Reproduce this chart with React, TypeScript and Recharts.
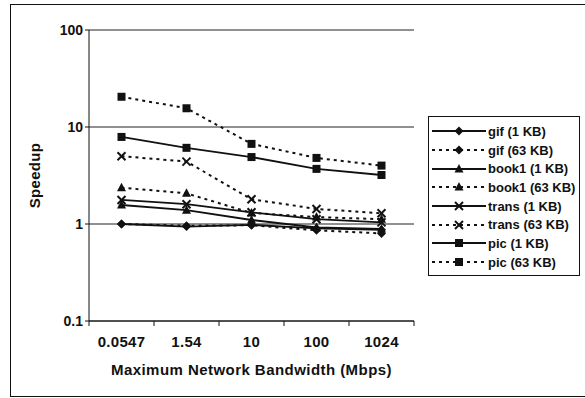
import {
  LineChart,
  Line,
  XAxis,
  YAxis,
  CartesianGrid,
  Legend,
} from 'recharts'

// bandwidth categories (Mbps)
const bandwidth = ['0.0547', '1.54', '10', '100', '1024']
const yTicks = [0.1, 1, 10, 100]

// speedup per series
const gif1 = [1.0, 0.94, 0.98, 0.9, 0.87]
const gif63 = [1.0, 0.96, 0.97, 0.86, 0.8]
const book1_1 = [1.57, 1.39, 1.1, 0.92, 0.89]
const book1_63 = [2.37, 2.07, 1.3, 1.18, 1.12]
const trans1 = [1.77, 1.6, 1.32, 1.12, 1.04]
const trans63 = [5.0, 4.4, 1.8, 1.43, 1.29]
const pic1 = [7.9, 6.1, 4.9, 3.7, 3.2]
const pic63 = [20.5, 15.6, 6.7, 4.8, 4.0]

type Shape = 'diamond' | 'triangle' | 'x' | 'square'

const series: { key: string; name: string; values: number[]; dashed: boolean; shape: Shape }[] = [
  { key: 'gif1', name: 'gif (1 KB)', values: gif1, dashed: false, shape: 'diamond' },
  { key: 'gif63', name: 'gif (63 KB)', values: gif63, dashed: true, shape: 'diamond' },
  { key: 'book1_1', name: 'book1 (1 KB)', values: book1_1, dashed: false, shape: 'triangle' },
  { key: 'book1_63', name: 'book1 (63 KB)', values: book1_63, dashed: true, shape: 'triangle' },
  { key: 'trans1', name: 'trans (1 KB)', values: trans1, dashed: false, shape: 'x' },
  { key: 'trans63', name: 'trans (63 KB)', values: trans63, dashed: true, shape: 'x' },
  { key: 'pic1', name: 'pic (1 KB)', values: pic1, dashed: false, shape: 'square' },
  { key: 'pic63', name: 'pic (63 KB)', values: pic63, dashed: true, shape: 'square' },
]

const data = bandwidth.map((bw, i) => {
  const row: Record<string, string | number> = { bw }
  series.forEach((s) => {
    row[s.key] = s.values[i]
  })
  return row
})

const FONT = '"Liberation Sans", Arial, sans-serif'
const INK = '#111'
const DASH = '3 4'

function Marker({ cx, cy, shape }: { cx: number; cy: number; shape: Shape }) {
  if (shape === 'diamond') {
    const r = 4.5
    return <polygon points={`${cx},${cy - r} ${cx + r},${cy} ${cx},${cy + r} ${cx - r},${cy}`} fill={INK} />
  }
  if (shape === 'triangle') {
    return <polygon points={`${cx},${cy - 5} ${cx + 4.5},${cy + 3.5} ${cx - 4.5},${cy + 3.5}`} fill={INK} />
  }
  if (shape === 'square') {
    return <rect x={cx - 4} y={cy - 4} width={8} height={8} fill={INK} />
  }
  return (
    <g stroke={INK} strokeWidth={2}>
      <line x1={cx - 4} y1={cy - 4} x2={cx + 4} y2={cy + 4} />
      <line x1={cx - 4} y1={cy + 4} x2={cx + 4} y2={cy - 4} />
    </g>
  )
}

const HALF_BAND = 32.5

function XTick(props: any) {
  const { x, payload, index } = props
  const axisY = 321
  return (
    <g>
      {index === 0 && <line x1={x - HALF_BAND} y1={axisY} x2={x - HALF_BAND} y2={axisY + 5} stroke={INK} />}
      <line x1={x + HALF_BAND} y1={axisY} x2={x + HALF_BAND} y2={axisY + 5} stroke={INK} />
      <text
        x={x}
        y={axisY + 26}
        textAnchor="middle"
        fontSize={15}
        fontWeight="bold"
        fontFamily={FONT}
        letterSpacing={0.3}
        fill={INK}
      >
        {payload.value}
      </text>
    </g>
  )
}

function renderLegend() {
  return (
    <div
      style={{
        border: `1px solid ${INK}`,
        width: 152,
        height: 160,
        boxSizing: 'border-box',
        paddingTop: 5,
        fontFamily: FONT,
        fontWeight: 'bold',
        fontSize: 13,
        color: INK,
        background: '#fff',
      }}
    >
      {series.map((s) => (
        <div key={s.key} style={{ display: 'flex', alignItems: 'center', height: 18.7 }}>
          <svg width={59} height={14} style={{ flex: 'none' }}>
            <line
              x1={3}
              y1={7}
              x2={57}
              y2={7}
              stroke={INK}
              strokeWidth={s.dashed ? 2 : 1.8}
              strokeDasharray={s.dashed ? DASH : undefined}
            />
            <Marker cx={30} cy={7} shape={s.shape} />
          </svg>
          <span style={{ whiteSpace: 'nowrap' }}>{s.name}</span>
        </div>
      ))}
    </div>
  )
}

export default function App() {
  return (
    <div style={{ position: 'relative', width: 585, height: 398, overflow: 'hidden', background: '#fff' }}>
      <style>{'body{margin:0}'}</style>
      <div
        style={{
          position: 'absolute',
          left: 10,
          top: 4,
          width: 600,
          height: 393,
          border: `1px solid ${INK}`,
          boxSizing: 'border-box',
        }}
      />
      <div style={{ position: 'absolute', left: 0, top: 0 }}>
        <LineChart width={585} height={398} data={data} margin={{ top: 30, right: 171, bottom: 17, left: 9 }}>
          <CartesianGrid vertical={false} stroke="#222" strokeWidth={1} yAxisId="left" />
          <XAxis
            dataKey="bw"
            type="category"
            padding={{ left: HALF_BAND, right: HALF_BAND }}
            height={60}
            stroke={INK}
            tickLine={false}
            tick={<XTick />}
            interval={0}
            label={({ viewBox }: any) => (
              <text
                x={viewBox.x + viewBox.width / 2}
                y={viewBox.y + 54}
                textAnchor="middle"
                fontSize={15}
                fontWeight="bold"
                fontFamily={FONT}
                letterSpacing={0.45}
                fill={INK}
              >
                Maximum Network Bandwidth (Mbps)
              </text>
            )}
          />
          <YAxis
            yAxisId="left"
            scale="log"
            domain={[0.1, 100]}
            ticks={yTicks}
            allowDataOverflow
            width={80}
            stroke={INK}
            tickSize={4}
            tickMargin={2}
            tick={{ fontSize: 14, fontWeight: 'bold', fontFamily: FONT, fill: INK }}
            tickFormatter={(v: number) => String(v)}
            label={({ viewBox }: any) => (
              <text
                x={viewBox.x + 31}
                y={viewBox.y + viewBox.height / 2}
                transform={`rotate(-90 ${viewBox.x + 31} ${viewBox.y + viewBox.height / 2})`}
                textAnchor="middle"
                fontSize={15}
                fontWeight="bold"
                fontFamily={FONT}
                letterSpacing={0.3}
                fill={INK}
              >
                Speedup
              </text>
            )}
          />
          <YAxis yAxisId="right" orientation="right" width={0} domain={[0, 1]} tick={false} tickLine={false} stroke={INK} />
          {series.map((s) => (
            <Line
              key={s.key}
              yAxisId="left"
              dataKey={s.key}
              name={s.name}
              stroke={INK}
              strokeWidth={s.dashed ? 2 : 1.8}
              strokeDasharray={s.dashed ? DASH : undefined}
              isAnimationActive={false}
              dot={(p: any) => <Marker key={`${s.key}-${p.index}`} cx={p.cx} cy={p.cy} shape={s.shape} />}
              activeDot={false}
            />
          ))}
          <Legend
            layout="vertical"
            align="center"
            verticalAlign="middle"
            content={renderLegend}
            wrapperStyle={{ position: 'absolute', left: 428, top: 116, width: 152, height: 160 }}
          />
        </LineChart>
      </div>
    </div>
  )
}
